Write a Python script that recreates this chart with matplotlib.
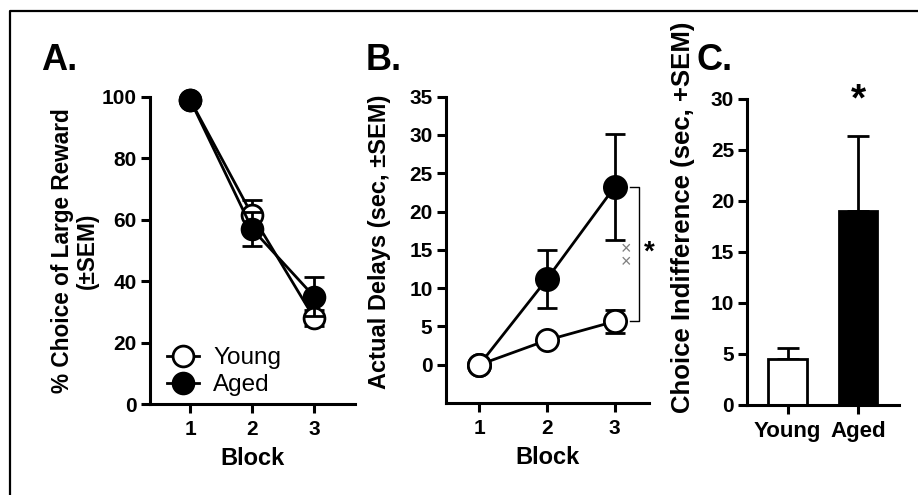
import numpy as np
import matplotlib
matplotlib.use("Agg")
import matplotlib.pyplot as plt
from matplotlib.lines import Line2D

plt.rcParams['font.family'] = ['Liberation Sans', 'DejaVu Sans']

# Panel A : % choice of large reward
blocks = [1, 2, 3]
young_choice = [99.0, 61.5, 28.0]
young_choice_sem = [0.8, 5.0, 2.7]
aged_choice = [99.0, 57.0, 35.0]
aged_choice_sem = [0.8, 5.5, 6.3]

# Panel B : actual delays
young_delay = [0.0, 3.2, 5.65]
young_delay_sem = [0.2, 0.4, 1.45]
aged_delay = [0.0, 11.2, 23.2]
aged_delay_sem = [0.2, 3.75, 6.9]

# Panel C : choice indifference
groups = ['Young', 'Aged']
indiff = [4.5, 19.0]
indiff_sem = [1.1, 7.3]

W, H = 918, 495
fig = plt.figure(figsize=(W / 100, H / 100), dpi=100)

lw_axis = 2.2
tick_fs = 15


def style_axes(ax):
    for s in ['top', 'right']:
        ax.spines[s].set_visible(False)
    for s in ['left', 'bottom']:
        ax.spines[s].set_linewidth(lw_axis)
    ax.tick_params(width=lw_axis, length=6.5, labelsize=tick_fs)
    ax.tick_params(axis='x', pad=5)
    ax.tick_params(axis='y', pad=3)
    for t in ax.get_xticklabels() + ax.get_yticklabels():
        t.set_fontweight('bold')


def px_axes(x0, x1, y0, y1):
    # pixel box -> figure fraction
    return fig.add_axes([x0 / W, 1 - y1 / H, (x1 - x0) / W, (y1 - y0) / H])


# ---- A ----
axA = px_axes(150, 355, 97, 404)
axA.errorbar(blocks, young_choice, yerr=young_choice_sem, color='black', lw=2,
             marker='o', ms=15, mfc='white', mec='black', mew=2, capsize=7,
             capthick=2, elinewidth=2, clip_on=False, zorder=3, label='Young')
axA.errorbar(blocks, aged_choice, yerr=aged_choice_sem, color='black', lw=2,
             marker='o', ms=15, mfc='black', mec='black', mew=2, capsize=7,
             capthick=2, elinewidth=2, clip_on=False, zorder=4, label='Aged')
axA.set_xlim(0.35, 3.66)
axA.set_ylim(0, 100)
axA.set_xticks(blocks)
axA.set_yticks([0, 20, 40, 60, 80, 100])
style_axes(axA)
axA.set_xlabel('Block', fontsize=17, fontweight='bold', labelpad=6)
axA.set_ylabel('% Choice of Large Reward\n(±SEM)', fontsize=16.3,
               fontweight='bold', linespacing=1.1)
axA.yaxis.set_label_coords(-0.25, 0.5)
hy = Line2D([], [], color='black', lw=2, marker='o', ms=15, mfc='white', mec='black', mew=2)
ha = Line2D([], [], color='black', lw=2, marker='o', ms=15, mfc='black', mec='black', mew=2)
axA.legend([hy, ha], ['Young', 'Aged'], loc='lower left', bbox_to_anchor=(0.0, -0.03),
           frameon=False, fontsize=17.5, handlelength=1.3, handletextpad=0.6,
           labelspacing=0.2, borderaxespad=0.3)

# ---- B ----
axB = px_axes(445.7, 649, 96.7, 403)
axB.errorbar(blocks, aged_delay, yerr=aged_delay_sem, color='black', lw=2,
             marker='o', ms=16, mfc='black', mec='black', mew=2, capsize=7,
             capthick=2, elinewidth=2, clip_on=False, zorder=3)
axB.errorbar(blocks, young_delay, yerr=young_delay_sem, color='black', lw=2,
             marker='o', ms=16, mfc='white', mec='black', mew=2, capsize=7,
             capthick=2, elinewidth=2, clip_on=False, zorder=4)
axB.set_xlim(0.5, 3.51)
axB.set_ylim(-5, 35)
axB.set_xticks(blocks)
axB.set_yticks([0, 5, 10, 15, 20, 25, 30, 35])
style_axes(axB)
axB.set_xlabel('Block', fontsize=17, fontweight='bold', labelpad=6)
axB.set_ylabel('Actual Delays (sec, ±SEM)', fontsize=17, fontweight='bold')
axB.yaxis.set_label_coords(-0.27, 0.526)
# significance bracket at block 3
bx0, bx1 = 3.23, 3.36
axB.plot([bx0, bx1, bx1, bx0], [aged_delay[2], aged_delay[2], young_delay[2], young_delay[2]],
         color='black', lw=1, clip_on=False)
axB.text(3.51, 14.6, '*', fontsize=20, fontweight='bold', ha='center', va='center')
axB.text(3.17, 14.2, '×\n×', fontsize=13, color='gray', ha='center', va='center',
         linespacing=0.75)

# ---- C ----
axC = px_axes(747.3, 899, 98.7, 405)
xc = np.arange(len(groups))
axC.bar(xc, indiff, width=0.54, color=['white', 'black'], edgecolor='black', lw=2,
        zorder=2)
axC.errorbar(xc, indiff, yerr=[[0, 0], indiff_sem], fmt='none', ecolor='black',
             elinewidth=2, capsize=8, capthick=2, zorder=1)
axC.set_xlim(-0.57, 1.58)
axC.set_ylim(0, 30)
axC.set_xticks(xc)
axC.set_xticklabels(groups)
axC.set_yticks([0, 5, 10, 15, 20, 25, 30])
style_axes(axC)
axC.tick_params(axis='x', labelsize=16)
axC.set_ylabel('Choice Indifference (sec, +SEM)', fontsize=18.5, fontweight='bold')
axC.yaxis.set_label_coords(-0.345, 0.614)
axC.text(1, 29.8, '*', fontsize=28, fontweight='bold', ha='center', va='center',
         clip_on=False)

# panel letters
for lx, letter in [(41, 'A.'), (366, 'B.'), (696, 'C.')]:
    fig.text(lx / W, 1 - 70 / H, letter, fontsize=26, fontweight='bold', va='baseline')

# frame lines (top and left)
fig.add_artist(Line2D([9.5 / W, 9.5 / W, 1.0], [0.0, 1 - 11 / H, 1 - 11 / H],
                      color='black', lw=1.6, transform=fig.transFigure))

fig.savefig('out.png', dpi=100)
